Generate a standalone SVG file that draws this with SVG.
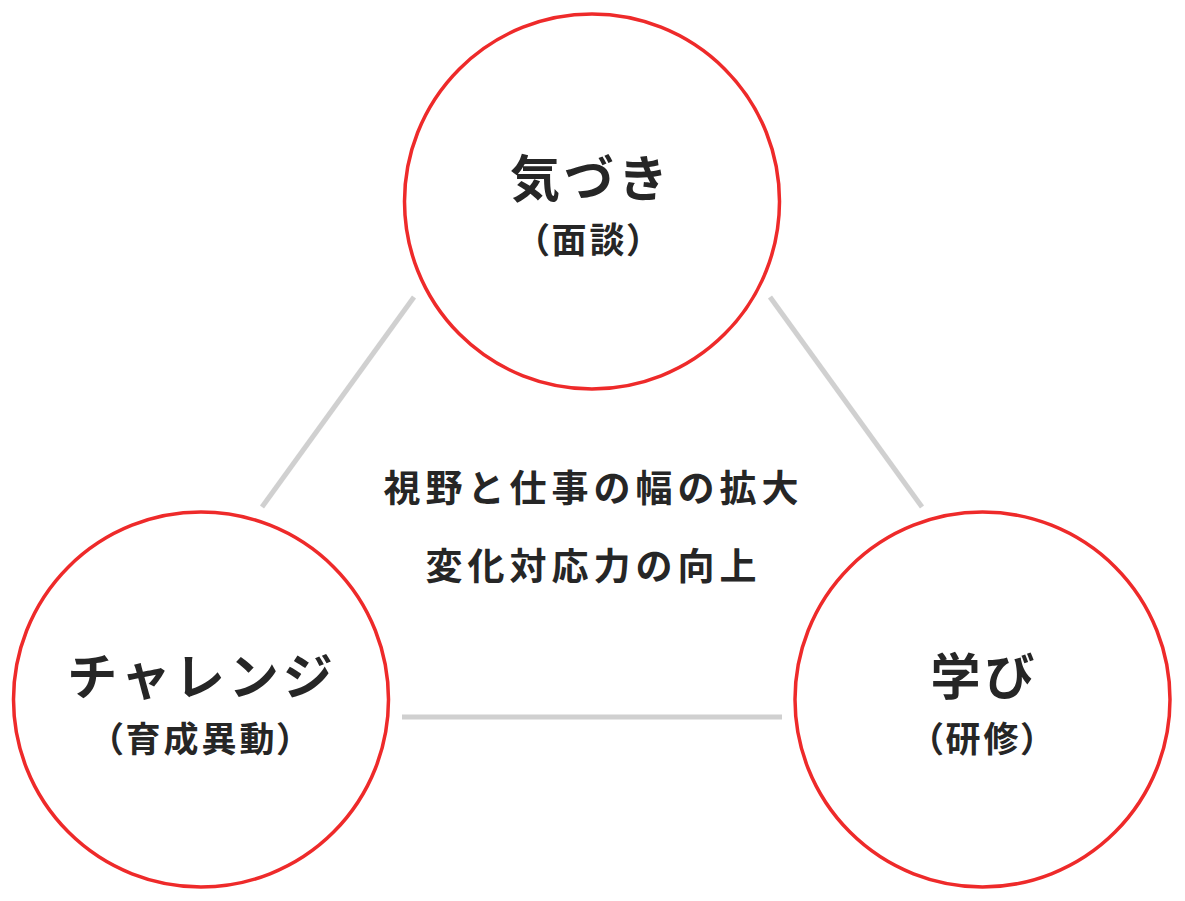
<svg xmlns="http://www.w3.org/2000/svg" width="1185" height="901" viewBox="0 0 1185 901">
<style>
.node{fill:#fff;stroke:#ee2a2a;stroke-width:3.5}
.link{stroke:#d0d0d0;stroke-width:5;fill:none}
.t{font-family:"Noto Sans CJK JP","Noto Sans",sans-serif;font-weight:700;fill:#262626;text-anchor:middle}
.title{font-size:50px;letter-spacing:4px}
.sub{font-size:35px;letter-spacing:3px;font-feature-settings:"palt" 1}
.center{font-size:37px;letter-spacing:5px}
</style>
<rect width="1185" height="901" fill="#fff"/>
<g id="connectors">
<line class="link" x1="414" y1="297" x2="262" y2="507"/>
<line class="link" x1="770" y1="297" x2="922" y2="507"/>
<line class="link" x1="402" y1="717" x2="782" y2="717"/>
</g>
<g id="node-kizuki">
<circle class="node" cx="592" cy="201.5" r="187.5"/>
<text class="t title" x="591" y="197">気づき</text>
<text class="t sub" x="589.5" y="253">（面談）</text>
</g>
<g id="node-challenge">
<circle class="node" cx="201" cy="699.5" r="187.5"/>
<text class="t title" x="202" y="695">チャレンジ</text>
<text class="t sub" x="201.5" y="752">（育成異動）</text>
</g>
<g id="node-manabi">
<circle class="node" cx="982.5" cy="699.5" r="187.5"/>
<text class="t title" x="984.5" y="695">学び</text>
<text class="t sub" x="983.5" y="752">（研修）</text>
</g>
<g id="center-text">
<text class="t center" x="593.5" y="502">視野と仕事の幅の拡大</text>
<text class="t center" x="593.5" y="580">変化対応力の向上</text>
</g>
</svg>
